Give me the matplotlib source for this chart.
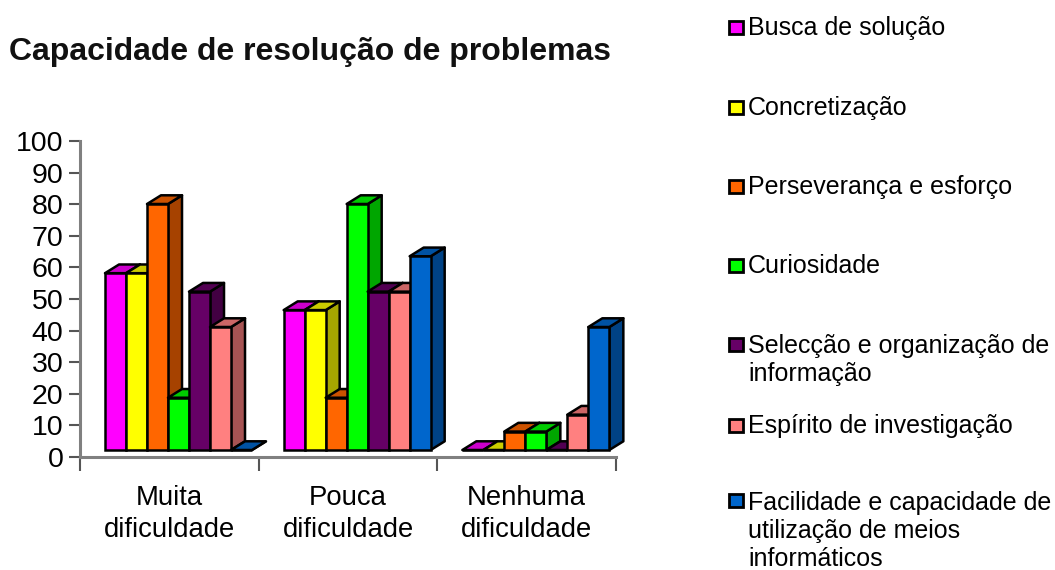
import matplotlib
matplotlib.use('Agg')
import matplotlib.pyplot as plt

plt.rcParams['font.family'] = ['Liberation Sans', 'DejaVu Sans']

# dados
categorias = ['Muita\ndificuldade', 'Pouca\ndificuldade', 'Nenhuma\ndificuldade']
series = ['Busca de solução', 'Concretização', 'Perseverança e esforço', 'Curiosidade',
          'Selecção e organização de\ninformação', 'Espírito de investigação',
          'Facilidade e capacidade de\nutilização de meios\ninformáticos']
busca = [57.5, 45.5, 0]
concretizacao = [57.5, 45.5, 0]
perseveranca = [80, 17, 6]
curiosidade = [17, 80, 6]
seleccao = [51.5, 51.5, 0]
espirito = [40, 51.5, 11.5]
facilidade = [0, 63, 40]
valores = [busca, concretizacao, perseveranca, curiosidade, seleccao, espirito, facilidade]

cores = ['#FF00FF', '#FFFF00', '#FF6600', '#00FF00', '#660066', '#FF8080', '#0066CC']
cores_topo = ['#CC00CC', '#CCCC00', '#CC5200', '#00CC00', '#520052', '#CC6666', '#0052A3']
cores_lado = ['#A600A6', '#A6A600', '#A64200', '#00A600', '#420042', '#A65353', '#004285']
legenda_y = [26, 106, 185, 264, 358, 424, 529]

W, H = 1055, 570


def caixa(x0, x1, y_topo, y_base):
    return [x0 / W, 1 - y_base / H, (x1 - x0) / W, (y_base - y_topo) / H]


fig = plt.figure(figsize=(W / 100, H / 100), dpi=100)

# eixos
ax = fig.add_axes(caixa(80, 616, 141, 457))
ax.set_xlim(0, 3)
ax.set_ylim(0, 100)
ax.set_yticks(range(0, 101, 10))
ax.tick_params(axis='y', labelsize=20.5, length=8, width=1.5, color='#555555', pad=4)
ax.set_xticks([0, 1, 2, 3])
ax.set_xticklabels([])
ax.tick_params(axis='x', which='major', length=10, width=1.5, color='#555555')
ax.set_xticks([0.5, 1.5, 2.5], minor=True)
ax.set_xticklabels(categorias, minor=True, fontsize=19.8, linespacing=1.3)
ax.tick_params(axis='x', which='minor', length=0, pad=20)
for s in ['top', 'right']:
    ax.spines[s].set_visible(False)
for s in ['left', 'bottom']:
    ax.spines[s].set_color('#808080')
    ax.spines[s].set_linewidth(2.2)

# barras em falso 3D, desenhadas da esquerda para a direita
ax2 = fig.add_axes(caixa(80, 616, 142.5, 450))
ax2.set_xlim(0, 3)
ax2.set_ylim(0, 100)
ax2.axis('off')
ax2.patch.set_alpha(0)

largura = 21 / 178.67
dx = 14 / 178.67
dy = 8.7 / 3.075
z = 2
for g in range(len(categorias)):
    for i in range(len(series)):
        v = valores[i][g]
        x0 = g + 0.14 + i * largura
        x1 = x0 + largura
        ax2.fill([x1, x1 + dx, x1 + dx, x1], [0, dy, v + dy, v], color=cores_lado[i],
                 ec='black', lw=1.8, zorder=z, clip_on=False, joinstyle='round')
        ax2.fill([x0, x1, x1 + dx, x0 + dx], [v, v, v + dy, v + dy], color=cores_topo[i],
                 ec='black', lw=1.8, zorder=z, clip_on=False, joinstyle='round')
        ax2.bar(x0, v, largura, align='edge', color=cores[i], edgecolor='black',
                linewidth=1.8, zorder=z + 1, clip_on=False)
        z += 2

# titulo
fig.text(9 / W, 1 - 52 / H, 'Capacidade de resolução de problemas', fontsize=23,
         fontweight='bold', va='center', ha='left', color='#111111')

# legenda
for nome, cor, y in zip(series, cores, legenda_y):
    n = nome.count('\n') + 1
    y_q = y - (n - 1) * 15 + 1
    fig.patches.append(plt.Rectangle((729 / W, 1 - (y_q + 7) / H), 14 / W, 13 / H, facecolor=cor,
                                     edgecolor='black', linewidth=2, transform=fig.transFigure))
    fig.text(748 / W, 1 - (y + 2) / H, nome, fontsize=18, va='center', ha='left', linespacing=1.2)

fig.savefig('out.png', dpi=100)
